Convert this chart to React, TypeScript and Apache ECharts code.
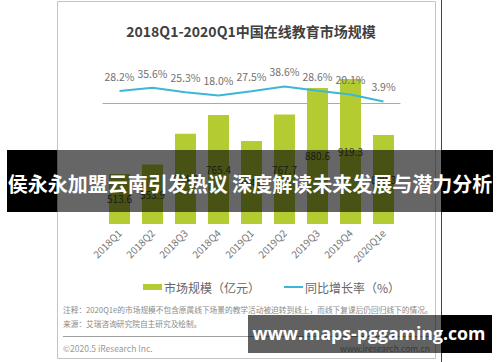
import React, { useEffect, useRef } from "react";
import * as echarts from "echarts";

const categories = ["2018Q1", "2018Q2", "2018Q3", "2018Q4", "2019Q1", "2019Q2", "2019Q3", "2019Q4", "2020Q1e"];
const marketSize = [513.6, 553.9, 684.8, 765.4, 654.8, 767.7, 880.6, 919.3, 680.3];
const growthRate = [28.2, 35.6, 25.3, 18.0, 27.5, 38.6, 28.6, 20.1, 3.9];
const title = "2018Q1-2020Q1中国在线教育市场规模";
const legendBar = "市场规模（亿元）";
const legendLine = "同比增长率（%）";
const note1 = "注释：2020Q1e的市场规模不包含原属线下场景的教学活动被迫转到线上，而线下复课后仍回归线下的情况。";
const note2 = "来源：艾瑞咨询研究院自主研究及绘制。";
const copyright = "©2020.5 iResearch Inc.";
const site = "www.iresearch.com.cn";
const bannerText = "侯永永加盟云南引发热议 深度解读未来发展与潜力分析";
const watermark = "www.maps-pggaming.com";

const CJK = '"Noto Sans CJK SC", "Noto Sans", sans-serif';

export default function App() {
  const ref = useRef<HTMLDivElement>(null);
  useEffect(() => {
    if (!ref.current) return;
    const chart = echarts.init(ref.current, null, { renderer: "svg" });
    chart.setOption({
      animation: false,
      backgroundColor: "#ffffff",
      textStyle: { fontFamily: CJK },
      title: {
        text: title,
        left: 246,
        textAlign: "center",
        top: 19,
        textStyle: { fontSize: 14, fontWeight: "bold", color: "#404040", fontFamily: CJK },
      },
      legend: {
        left: 138,
        top: 276,
        itemWidth: 19,
        itemHeight: 6,
        itemGap: 24,
        textStyle: { fontSize: 12, color: "#666", fontFamily: CJK, padding: [0, 0, 0, -3] },
        data: [
          { name: legendBar, icon: "rect" },
          { name: legendLine, icon: "path://M0,0L19,0L19,2L0,2Z", itemStyle: { color: "#3cb7d7" } },
        ],
      },
      grid: { left: 103, right: 100, top: 60, bottom: 138, containLabel: false },
      xAxis: {
        type: "category",
        data: categories,
        axisTick: { show: false },
        axisLine: { lineStyle: { color: "#aaaaaa", width: 1 } },
        axisLabel: { rotate: 45, fontSize: 10, color: "#777", margin: 7, fontFamily: CJK },
      },
      yAxis: [
        { type: "value", min: 300, max: 1000, show: false, splitLine: { show: false } },
        { type: "value", min: -280, max: 100, show: false, splitLine: { show: false } },
      ],
      series: [
        {
          name: legendBar,
          type: "bar",
          data: marketSize,
          barWidth: 21,
          itemStyle: { color: "#b4cc32" },
          label: { show: true, position: "inside", fontSize: 10, color: "#444", fontFamily: CJK },
          z: 2,
        },
        {
          name: legendLine,
          type: "line",
          yAxisIndex: 1,
          data: growthRate,
          symbol: "none",
          showSymbol: false,
          lineStyle: { color: "#3cb7d7", width: 2 },
          itemStyle: { color: "#3cb7d7" },
          z: 3,
        },
        {
          name: "labels",
          type: "line",
          yAxisIndex: 1,
          data: growthRate,
          symbol: "circle",
          symbolSize: 2,
          showSymbol: true,
          lineStyle: { color: "transparent", width: 0 },
          itemStyle: { color: "transparent", borderColor: "transparent" },
          label: {
            show: true,
            position: "top",
            distance: 8,
            fontSize: 10.5,
            color: "#707070",
            fontFamily: CJK,
            formatter: (p: any) => Number(p.value).toFixed(1) + "%",
          },
          z: 4,
        },
      ],
      graphic: [
        { type: "rect", shape: { x: 57.5, y: 1.5, width: 378, height: 357 }, style: { fill: "none", stroke: "#c4c4c4", lineWidth: 1 }, z: 1, silent: true },
        { type: "line", shape: { x1: 441.5, y1: 0, x2: 441.5, y2: 362 }, style: { stroke: "#444", lineWidth: 1 }, z: 1 },
        { type: "text", x: 63, y: 309, style: { text: note1, fontSize: 7.7, fill: "#8a8a8a", fontFamily: CJK, verticalAlign: "middle" }, z: 1 },
        { type: "text", x: 63, y: 323, style: { text: note2, fontSize: 7.7, fill: "#8a8a8a", fontFamily: CJK, verticalAlign: "middle" }, z: 1 },
        { type: "line", shape: { x1: 63, y1: 336.5, x2: 430, y2: 336.5 }, style: { stroke: "#a0a0a0", lineWidth: 1 }, z: 1 },
        { type: "text", x: 63, y: 348, style: { text: copyright, fontSize: 8.5, fill: "#9a9a9a", fontFamily: CJK, verticalAlign: "middle" }, z: 1 },
        { type: "text", x: 430, y: 348, style: { text: site, fontSize: 8.5, fill: "#9a9a9a", fontFamily: CJK, align: "right", verticalAlign: "middle" }, z: 1 },
        // banner overlay
        { type: "rect", shape: { x: 7, y: 150, width: 50, height: 62 }, style: { fill: "#000" }, z: 100 },
        { type: "rect", shape: { x: 57, y: 150, width: 384, height: 62 }, style: { fill: "rgba(0,0,0,0.6)" }, z: 100 },
        { type: "rect", shape: { x: 441, y: 150, width: 52, height: 62 }, style: { fill: "#000" }, z: 100 },
        { type: "text", x: 250, y: 183, style: { text: bannerText, fontSize: 20, fontWeight: "bold", fill: "#fff", fontFamily: CJK, align: "center", verticalAlign: "middle" }, z: 101 },
        // bottom watermark
        { type: "rect", shape: { x: 248, y: 315, width: 193, height: 38 }, style: { fill: "rgba(0,0,0,0.62)" }, z: 100 },
        { type: "rect", shape: { x: 441, y: 315, width: 51, height: 38 }, style: { fill: "#000" }, z: 100 },
        { type: "text", x: 369, y: 333, style: { text: watermark, fontSize: 17.7, fontWeight: "bold", fill: "#fff", fontFamily: '"Open Sans", sans-serif', align: "center", verticalAlign: "middle" }, z: 101 },
      ],
    });
    return () => chart.dispose();
  }, []);
  return <div ref={ref} style={{ position: "fixed", left: 0, top: 0, width: 500, height: 362 }} />;
}
